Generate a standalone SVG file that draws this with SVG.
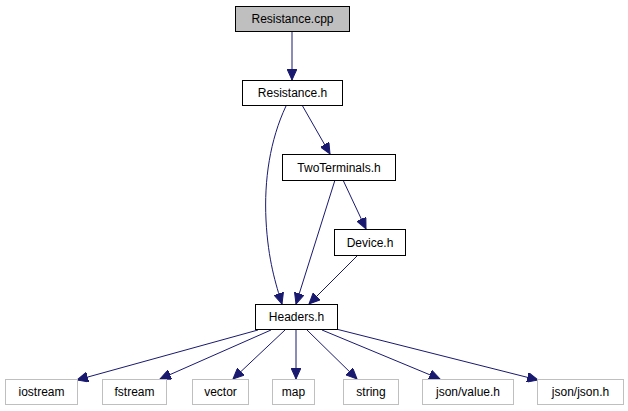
<svg xmlns="http://www.w3.org/2000/svg" width="628" height="411" viewBox="0 0 628 411">
<style>
.n rect{fill:#fff;stroke:#000;stroke-width:1}
.g rect{fill:#fff;stroke:#bfbfbf;stroke-width:1}
.r rect{fill:#bfbfbf;stroke:#000;stroke-width:1}
text{font-family:"Liberation Sans",Arial,sans-serif;font-size:12px;fill:#000;text-anchor:middle}
#edges path{fill:none;stroke:#191970;stroke-width:1;marker-end:url(#a)}
</style>
<defs>
<marker id="a" markerWidth="12" markerHeight="10" refX="11" refY="5" orient="auto" markerUnits="userSpaceOnUse">
<path d="M0,0 L11,5 L0,10 z" fill="#191970" stroke="#191970"/>
</marker>
</defs>
<rect width="628" height="411" fill="#fff"/>
<g id="edges">
<path d="M292,31 L292,80"/>
<path d="M302,105 L330,154"/>
<path d="M286,106 C270,140 264,180 266,220 C268,260 276,285 282,304"/>
<path d="M335,180 L296,304"/>
<path d="M343,180 L366,229"/>
<path d="M358,255 L309,304"/>
<path d="M258,330 L77,380"/>
<path d="M271,330 L160,379"/>
<path d="M285,330 L233,379"/>
<path d="M296,330 L296,379"/>
<path d="M307,330 L357,379"/>
<path d="M322,330 L440,379"/>
<path d="M336,329 L538,380"/>
</g>
<g id="n_resistance_cpp" class="r"><rect x="235.5" y="6.5" width="114" height="25"/><text x="292.5" y="23">Resistance.cpp</text></g>
<g id="n_resistance_h" class="n"><rect x="242.5" y="80.5" width="100" height="25"/><text x="292.5" y="97">Resistance.h</text></g>
<g id="n_twoterminals_h" class="n"><rect x="282.5" y="154.5" width="113" height="26"/><text x="339" y="171.5">TwoTerminals.h</text></g>
<g id="n_device_h" class="n"><rect x="334.5" y="229.5" width="71" height="26"/><text x="370" y="246.5">Device.h</text></g>
<g id="n_headers_h" class="n"><rect x="255.5" y="304.5" width="82" height="25"/><text x="296.5" y="321">Headers.h</text></g>
<g id="n_iostream" class="g"><rect x="5.5" y="379.5" width="72" height="25"/><text x="41.5" y="396">iostream</text></g>
<g id="n_fstream" class="g"><rect x="102.5" y="379.5" width="64" height="25"/><text x="134.5" y="396">fstream</text></g>
<g id="n_vector" class="g"><rect x="192.5" y="379.5" width="56" height="25"/><text x="220.5" y="396">vector</text></g>
<g id="n_map" class="g"><rect x="272.5" y="379.5" width="42" height="25"/><text x="293.5" y="396">map</text></g>
<g id="n_string" class="g"><rect x="343.5" y="379.5" width="55" height="25"/><text x="371" y="396">string</text></g>
<g id="n_json_value" class="g"><rect x="422.5" y="379.5" width="91" height="25"/><text x="468" y="396">json/value.h</text></g>
<g id="n_json_json" class="g"><rect x="537.5" y="379.5" width="86" height="25"/><text x="580.5" y="396">json/json.h</text></g>
</svg>
